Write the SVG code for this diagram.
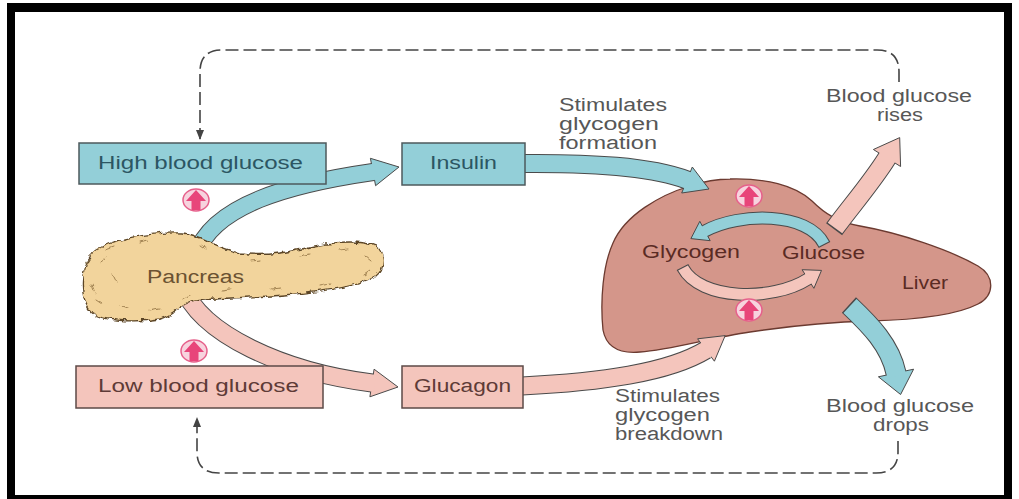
<svg xmlns="http://www.w3.org/2000/svg" width="1019" height="499" viewBox="0 0 1019 499">
  <style>
    .lbl { font-family: "Liberation Sans", Arial, Helvetica, sans-serif; font-size: 18px; }
    .note { fill: #575757; }
    .blue-txt { fill: #2c5663; }
    .pink-txt { fill: #5e3b37; }
    .liver-txt { fill: #5a2b24; }
    .box-blue { fill: #93cfd8; stroke: #4d5a5c; stroke-width: 1.5; }
    .box-pink { fill: #f4c5bc; stroke: #5c4a47; stroke-width: 1.5; }
    .edge { fill: none; stroke: #4a4a4a; }
    .in-blue { fill: none; stroke: #93cfd8; }
    .in-pink { fill: none; stroke: #f4c5bc; }
    .head-blue { fill: #93cfd8; stroke: #4a4a4a; stroke-width: 1; stroke-linejoin: miter; }
    .head-pink { fill: #f4c5bc; stroke: #4a4a4a; stroke-width: 1; stroke-linejoin: miter; }
    .dash { fill: none; stroke: #444; stroke-width: 1.6; stroke-dasharray: 13 5; }
    .ring { fill: #f7d3de; stroke: #e6608b; stroke-width: 1.5; }
    .uparrow { fill: #e8457a; }
    .grain { fill: none; stroke: #8c6c3c; stroke-width: 0.8; stroke-linecap: round; }
  </style>
  <defs>
    <marker id="tip" viewBox="0 0 10 10" refX="9" refY="5" markerWidth="10" markerHeight="10" markerUnits="userSpaceOnUse" orient="auto">
      <path d="M0,1 L10,5 L0,9 Z" fill="#444"/>
    </marker>
    <filter id="rough" x="-10%" y="-10%" width="120%" height="120%">
      <feTurbulence type="fractalNoise" baseFrequency="0.14" numOctaves="2" seed="3" result="n"/>
      <feDisplacementMap in="SourceGraphic" in2="n" scale="6" xChannelSelector="R" yChannelSelector="G"/>
    </filter>
    <g id="up-icon">
      <ellipse cx="0" cy="0" rx="13" ry="11" class="ring"/>
      <path class="uparrow" d="M-10,1 L0,-10 L10,1 L4.5,1 L4.5,10 L-4.5,10 L-4.5,1 Z"/>
    </g>
  </defs>

  <!-- frame -->
  <rect x="0" y="0" width="1019" height="499" fill="#ffffff"/>
  <rect x="7" y="3" width="1005" height="496" fill="#000000"/>
  <rect x="15" y="12" width="989" height="483" fill="#ffffff"/>

  <!-- liver -->
  <g id="liver">
    <path d="M 730 179 C 765 178, 795 185, 812 201 C 825 214, 838 222, 860 226 C 900 233, 950 250, 978 266 C 995 276, 995 295, 978 304 C 955 316, 910 320, 870 321 C 830 322, 790 326, 750 332 C 710 338, 670 350, 640 352 C 618 354, 606 346, 603 330 C 600 300, 603 265, 613 243 C 625 215, 660 195, 690 186 C 705 181, 718 179, 730 179 Z" fill="#d4968a" stroke="#6b3a30" stroke-width="1.3"/>
  </g>

  <!-- connectors -->
  <g id="connectors">
    <!-- feedback loops -->
    <path class="dash" d="M 899 82 V 72 Q 899 50 877 50 H 222 Q 200 50 200 72 V 139" marker-end="url(#tip)"/>
    <path class="dash" d="M 898 441 V 452 Q 898 473 876 473 H 219 Q 197 473 197 452 V 418" marker-end="url(#tip)"/>

    <!-- pancreas to insulin -->
    <path class="edge" stroke-width="18" d="M 196 255 C 212 205, 290 184, 373 172"/>
    <polygon class="head-blue" points="375.6,185.7 399,167 370.4,158.3"/>
    <path class="in-blue" stroke-width="16" d="M 196 255 C 212 205, 290 184, 373 172 L 376 171.4"/>

    <!-- insulin to liver -->
    <path class="edge" stroke-width="19" d="M 524 163.5 C 590 163, 650 166, 687 180"/>
    <polygon class="head-blue" points="681.7,193 709,189 692.3,167"/>
    <path class="in-blue" stroke-width="17" d="M 524 163.5 C 590 163, 650 166, 687 180 L 690 181.1"/>

    <!-- pancreas to glucagon -->
    <path class="edge" stroke-width="19" d="M 182 285 C 200 335, 285 372, 372 383"/>
    <polygon class="head-pink" points="369.9,396.8 398,387 374.1,369.2"/>
    <path class="in-pink" stroke-width="17" d="M 182 285 C 200 335, 285 372, 372 383 L 375 383.4"/>

    <!-- glucagon to liver -->
    <path class="edge" stroke-width="19" d="M 522 386 C 600 382, 668 373, 706 350"/>
    <polygon class="head-pink" points="714.4,361.2 725.2,335.6 697.6,338.8"/>
    <path class="in-pink" stroke-width="17" d="M 522 386 C 600 382, 668 373, 706 350 L 708.4 348.2"/>

    <!-- liver releases glucose -->
    <path class="edge" stroke-width="20" d="M 834.1 229.2 L 835 228 C 852 205, 872 182, 887 158"/>
    <polygon class="head-pink" points="900.6,166.5 899.7,137.6 873.4,149.5"/>
    <path class="in-pink" stroke-width="18" d="M 835 228 C 852 205, 872 182, 887 158 L 888.6 155.5"/>

    <!-- liver takes up glucose -->
    <path class="edge" stroke-width="21" d="M 848.9 305 L 850 306 C 870 325, 890 345, 896 373"/>
    <polygon class="head-blue" points="913.6,369.2 900.6,394.5 878.4,376.8"/>
    <path class="in-blue" stroke-width="19" d="M 850 306 C 870 325, 890 345, 896 373 L 896.6 376"/>

    <!-- glucose to glycogen -->
    <path class="edge" stroke-width="13" d="M 824.5 245 L 824 244 C 808 212, 740 212, 705 231"/>
    <polygon class="head-blue" points="710.2,240.7 690.9,238.6 699.8,221.3"/>
    <path class="in-blue" stroke-width="11" d="M 824 244 C 808 212, 740 212, 705 231 L 702.4 232.4"/>

    <!-- glycogen to glucose -->
    <path class="edge" stroke-width="13" d="M 682.5 267 L 683 268 C 700 300, 772 302, 808 279"/>
    <polygon class="head-pink" points="813.9,288.3 821.5,270.4 802.1,269.7"/>
    <path class="in-pink" stroke-width="11" d="M 683 268 C 700 300, 772 302, 808 279 L 810.5 277.4"/>
  </g>

  <!-- pancreas -->
  <g id="pancreas">
    <g filter="url(#rough)">
      <path d="M 183 233 C 200 234, 215 248, 240 253 C 265 257, 290 252, 315 246 C 335 242, 360 240, 375 246 C 386 252, 386 268, 376 276 C 360 287, 320 292, 285 295 C 250 298, 215 297, 190 302 C 178 306, 175 316, 160 319 C 140 322, 110 322, 95 315 C 84 308, 81 290, 83 275 C 85 260, 92 250, 108 244 C 130 236, 160 232, 183 233 Z" fill="#f2d49c" stroke="#5b4526" stroke-width="1.3"/>
      <path class="grain" d="M 100 262 l 6 -5 M 92 285 l 3 8 M 120 305 l 8 3 M 150 310 l 9 -2 M 105 250 l 8 -3 M 140 242 l 7 -2 M 200 245 l 6 4 M 250 261 l 10 -1 M 300 256 l 9 -2 M 340 250 l 8 -1 M 365 256 l 6 5 M 370 270 l -6 4 M 330 283 l -10 2 M 280 288 l -9 1 M 230 290 l -8 1 M 190 295 l -6 3 M 113 275 l 3 6 M 96 300 l 6 4"/>
    </g>
    <text class="lbl" x="147" y="283" textLength="97" lengthAdjust="spacingAndGlyphs" fill="#6b5232">Pancreas</text>
  </g>

  <!-- boxes -->
  <g id="high-blood-glucose">
    <rect class="box-blue" x="79" y="143" width="247" height="41"/>
    <text class="lbl blue-txt" x="98" y="169" textLength="205" lengthAdjust="spacingAndGlyphs">High blood glucose</text>
  </g>
  <g id="insulin">
    <rect class="box-blue" x="402" y="143" width="123" height="42"/>
    <text class="lbl blue-txt" x="430" y="169" textLength="67" lengthAdjust="spacingAndGlyphs">Insulin</text>
  </g>
  <g id="low-blood-glucose">
    <rect class="box-pink" x="76" y="366" width="247" height="42"/>
    <text class="lbl pink-txt" x="98" y="392" textLength="201" lengthAdjust="spacingAndGlyphs">Low blood glucose</text>
  </g>
  <g id="glucagon">
    <rect class="box-pink" x="402" y="366" width="121" height="42"/>
    <text class="lbl pink-txt" x="414" y="392" textLength="97" lengthAdjust="spacingAndGlyphs">Glucagon</text>
  </g>

  <!-- liver labels -->
  <g id="liver-labels">
    <text class="lbl liver-txt" x="642" y="258" textLength="98" lengthAdjust="spacingAndGlyphs">Glycogen</text>
    <text class="lbl liver-txt" x="782" y="259" textLength="83" lengthAdjust="spacingAndGlyphs">Glucose</text>
    <text class="lbl liver-txt" x="902" y="289" textLength="46" lengthAdjust="spacingAndGlyphs">Liver</text>
  </g>

  <!-- increase markers -->
  <g id="markers">
    <use href="#up-icon" x="196" y="200"/>
    <use href="#up-icon" x="194" y="351"/>
    <use href="#up-icon" x="749" y="196"/>
    <use href="#up-icon" x="749" y="310"/>
  </g>

  <!-- notes -->
  <g id="notes">
    <text class="lbl note" x="559" y="111" textLength="108" lengthAdjust="spacingAndGlyphs">Stimulates</text>
    <text class="lbl note" x="559" y="130" textLength="100" lengthAdjust="spacingAndGlyphs">glycogen</text>
    <text class="lbl note" x="559" y="149" textLength="98" lengthAdjust="spacingAndGlyphs">formation</text>
    <text class="lbl note" x="615" y="402" textLength="105" lengthAdjust="spacingAndGlyphs">Stimulates</text>
    <text class="lbl note" x="615" y="421" textLength="95" lengthAdjust="spacingAndGlyphs">glycogen</text>
    <text class="lbl note" x="615" y="440" textLength="108" lengthAdjust="spacingAndGlyphs">breakdown</text>
    <text class="lbl note" x="826" y="102" textLength="146" lengthAdjust="spacingAndGlyphs">Blood glucose</text>
    <text class="lbl note" x="877" y="121" textLength="46" lengthAdjust="spacingAndGlyphs">rises</text>
    <text class="lbl note" x="826" y="412" textLength="148" lengthAdjust="spacingAndGlyphs">Blood glucose</text>
    <text class="lbl note" x="873" y="431" textLength="56" lengthAdjust="spacingAndGlyphs">drops</text>
  </g>
</svg>
